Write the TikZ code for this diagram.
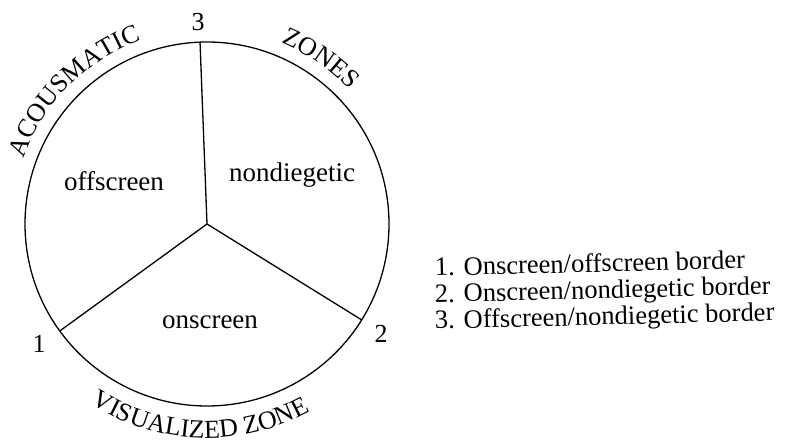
\documentclass[tikz,border=0pt]{standalone}
\usepackage{fontspec}
\setmainfont{Liberation Serif}
\usetikzlibrary{decorations.text}
\newcommand{\curvefont}{\fontsize{26}{26}\selectfont}
\begin{document}
\begin{tikzpicture}[x=1pt,y=1pt,
  border/.style={line width=1.3pt, black},
  region/.style={font=\fontsize{27}{27}\selectfont, inner sep=0pt},
  numlabel/.style={font=\fontsize{26}{26}\selectfont, inner sep=0pt},
  legend/.style={font=\fontsize{26.5}{26.5}\selectfont, anchor=base west, inner sep=0pt, rotate=1.4},
  curved/.style={decorate, decoration={text along path, text align=center, text={#1}}}]
\useasboundingbox[fill=white] (0,0) rectangle (786,444);
\coordinate (c) at (207,220);
\draw[border] (c) circle (182);
\path (c) ++(92.2:182) coordinate (p3);
\path (c) ++(216:182) coordinate (p1);
\path (c) ++(328.2:182) coordinate (p2);
\draw[border] (c) -- (p3);
\draw[border] (c) -- (p1);
\draw[border] (c) -- (p2);
% numbers at borders
\node[numlabel] (n3) at (198,422) {3};
\node[numlabel] (n1) at (39,100) {1};
\node[numlabel] (n2) at (381,110) {2};
% regions
\node[region] (off) at (114,263) {offscreen};
\node[region] (nond) at (292,269) {nondiegetic};
\node[region] (on) at (210,122) {onscreen};
% curved labels
\path[curved={|\curvefont|ACOUSMATIC}] (c) ++(178:195) arc[start angle=178, end angle=92, radius=195];
\path[curved={|\curvefont|ZONES}] (c) ++(80:196) arc[start angle=80, end angle=31, radius=196];
\path[curved={|\curvefont|VISUALIZED ZONE}] (c) ++(218:214) arc[start angle=218, end angle=318, radius=214];
% legend
\node[legend] (l1) at (435,168) {1. Onscreen/offscreen border};
\node[legend] (l2) at (435,141.5) {2. Onscreen/nondiegetic border};
\node[legend] (l3) at (435,115) {3. Offscreen/nondiegetic border};
\end{tikzpicture}
\end{document}
